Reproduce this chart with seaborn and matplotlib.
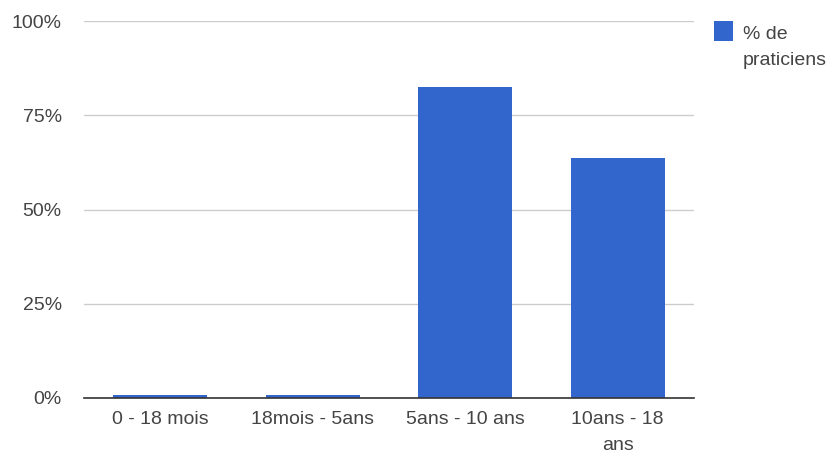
import matplotlib
matplotlib.use("Agg")
import matplotlib.pyplot as plt
import seaborn as sns
import pandas as pd
from matplotlib.ticker import FuncFormatter
from matplotlib.patches import Rectangle

categories = ["0 - 18 mois", "18mois - 5ans", "5ans - 10 ans", "10ans - 18\nans"]
values = [0.8, 0.8, 82.5, 63.6]
series_lines = ["% de", "praticiens"]
y_ticks = [0, 25, 50, 75, 100]
BAR_COLOR = "#3366cc"

sns.set_theme(style="white")
plt.rcParams['font.family'] = ['Liberation Sans', 'DejaVu Sans']

df = pd.DataFrame({"cat": categories, "val": values})

W, H = 832, 457
fig = plt.figure(figsize=(W/100, H/100), dpi=100)
ax = fig.add_axes([84/W, 1-398/H, (694-84)/W, (398-21)/H])

sns.barplot(data=df, x="cat", y="val", color=BAR_COLOR, saturation=1,
            width=0.617, ax=ax, edgecolor="none")

FS = 14
TXT = "#444444"
ax.set_ylim(0, 100)
ax.set_xlim(-0.5, 3.5)
ax.set_yticks(y_ticks)
ax.yaxis.set_major_formatter(FuncFormatter(lambda v, p: f"{int(v)}%"))
ax.grid(axis="y", color="#cccccc", linewidth=1)
ax.set_axisbelow(True)
for s in ["top", "right", "left"]:
    ax.spines[s].set_visible(False)
ax.spines["bottom"].set_color("#333333")
ax.spines["bottom"].set_linewidth(1.2)
ax.spines["bottom"].set_zorder(5)
ax.tick_params(axis="both", length=0, labelsize=FS, labelcolor=TXT)
ax.tick_params(axis="y", pad=16)
ax.tick_params(axis="x", pad=9.5)
for t in ax.get_xticklabels():
    t.set_linespacing(1.7)
ax.set_xlabel("")
ax.set_ylabel("")

# legend (drawn by hand to match Google Charts layout)
fig.add_artist(Rectangle((714/W, 1-40.5/H), 19/W, 19/H, transform=fig.transFigure,
                         facecolor=BAR_COLOR, edgecolor="none"))
fig.text(743/W, 1-39/H, series_lines[0], fontsize=FS, color=TXT, va="baseline", ha="left")
fig.text(743/W, 1-65/H, series_lines[1], fontsize=FS, color=TXT, va="baseline", ha="left")

fig.savefig("out.png", dpi=100, facecolor="white")
